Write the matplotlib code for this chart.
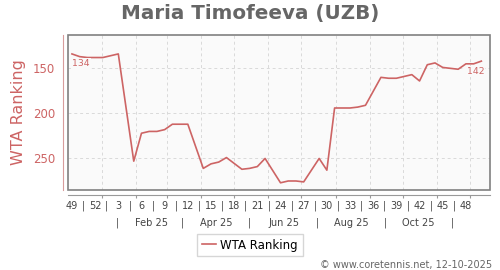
import datetime as dt
import matplotlib
matplotlib.use("Agg")
import matplotlib.pyplot as plt
import matplotlib.dates as mdates
from matplotlib.patches import Rectangle

player = "Maria Timofeeva (UZB)"
footer = "\u00a9 www.coretennis.net, 12-10-2025"

# ISO weeks and WTA ranking
rank_weeks = ["2024-W49", "2024-W50", "2024-W51", "2024-W52", "2025-W01", "2025-W02",
              "2025-W03", "2025-W05", "2025-W06", "2025-W07", "2025-W08", "2025-W09",
              "2025-W10", "2025-W11", "2025-W12", "2025-W14", "2025-W15", "2025-W16",
              "2025-W17", "2025-W19", "2025-W20", "2025-W21", "2025-W22", "2025-W24",
              "2025-W25", "2025-W26", "2025-W27", "2025-W29", "2025-W30", "2025-W31",
              "2025-W32", "2025-W33", "2025-W34", "2025-W35", "2025-W37", "2025-W38",
              "2025-W39", "2025-W40", "2025-W41", "2025-W42", "2025-W43", "2025-W44",
              "2025-W45", "2025-W46", "2025-W47", "2025-W48", "2025-W49", "2025-W50"]
ranks = [134, 137, 138, 138, 138, 136,
         134, 253, 222, 220, 220, 218,
         212, 212, 212, 261, 256, 254,
         249, 262, 261, 259, 250, 277,
         275, 275, 276, 250, 263, 194,
         194, 194, 193, 191, 160, 161,
         161, 159, 157, 164, 146, 144,
         149, 150, 151, 145, 145, 142]

tick_weeks = ["2024-W49", "2024-W52", "2025-W03", "2025-W06", "2025-W09", "2025-W12",
              "2025-W15", "2025-W18", "2025-W21", "2025-W24", "2025-W27", "2025-W30",
              "2025-W33", "2025-W36", "2025-W39", "2025-W42", "2025-W45", "2025-W48"]
month_labels = ["Feb 25", "Apr 25", "Jun 25", "Aug 25", "Oct 25"]
month_label_dates = [dt.date(2025, m, 15) for m in (2, 4, 6, 8, 10)]
month_sep_dates = [dt.date(2025, m, 15) for m in (1, 3, 5, 7, 9, 11)]
y_ticks = [150, 200, 250]

RED = "#cd6464"
GREY = "#808080"


def week_date(s):
    y, w = s.split("-W")
    return dt.date.fromisocalendar(int(y), int(w), 4)


x = mdates.date2num([week_date(s) for s in rank_weeks])
tx = mdates.date2num([week_date(s) for s in tick_weeks])

fig = plt.figure(figsize=(5, 2.7), dpi=100)
ax = fig.add_axes([68 / 500, 80 / 270, 422 / 500, 155 / 270])
ax.set_facecolor("#fafafa")

ax.plot(x, ranks, color=RED, lw=1.2, label="WTA Ranking", zorder=3)

lbl = dict(fontsize=6.7, color=RED, textcoords="offset points", va="top",
           bbox=dict(fc="#fafafa", ec="none", pad=0.8), zorder=4)
ax.annotate(str(ranks[0]), (x[0], ranks[0]), xytext=(0, -4), ha="left", **lbl)
ax.annotate(str(ranks[-1]), (x[-1], ranks[-1]), xytext=(2, -4), ha="right", **lbl)

ax.set_xlim(mdates.date2num(dt.datetime(2024, 12, 1, 10)),
            mdates.date2num(dt.datetime(2025, 12, 18, 20)))
ax.set_ylim(285, 113)

month_starts = mdates.date2num([dt.date(2025, m, 1) for m in range(1, 13)])
ax.set_xticks(month_starts)
ax.set_xticklabels([])
ax.set_yticks(y_ticks)
ax.grid(True, ls=(0, (3, 3)), color="#d9d9d9", lw=0.7)

for side in ("top", "right"):
    ax.spines[side].set_visible(False)
ax.spines["left"].set_position(("outward", 3.6))
ax.spines["left"].set_color("#d89c9c")
ax.spines["bottom"].set_position(("outward", 3.6))
ax.spines["bottom"].set_color("#999999")
ax.add_patch(Rectangle((0, 0), 1, 1, transform=ax.transAxes, fill=False,
                       ec=GREY, lw=1.2, clip_on=False, zorder=5))

ax.tick_params(axis="y", length=0, pad=5.8, labelsize=8.5, labelcolor=RED)
ax.tick_params(axis="x", length=2.5, color="#999999", direction="out")
ax.set_ylabel("WTA Ranking", fontsize=11.5, color=RED, labelpad=5)

trans = ax.get_xaxis_transform()
txt = dict(transform=trans, ha="center", va="center", fontsize=7, color="#444444")
for xi, s in zip(tx, tick_weeks):
    ax.text(xi, -0.103, str(int(s.split("-W")[1])), **txt)
for a, b in zip(tx[:-1], tx[1:]):
    ax.text((a + b) / 2, -0.103, "|", **txt)
for d, s in zip(mdates.date2num(month_label_dates), month_labels):
    ax.text(d, -0.213, s, **txt)
for d in mdates.date2num(month_sep_dates):
    ax.text(d, -0.213, "|", **txt)

fig.text(0.5, 1 - 13 / 270, player, ha="center", va="center",
         fontsize=14.3, fontweight="bold", color="#666666")
fig.legend(loc="center", bbox_to_anchor=(0.5, 1 - 245 / 270), fontsize=8.5,
           frameon=True, fancybox=False, edgecolor="#cccccc", handlelength=1.2,
           handletextpad=0.35, borderpad=0.4, borderaxespad=0)
fig.text(0.984, 1 - 265 / 270, footer, ha="right", va="center", fontsize=7,
         color="#666666")

fig.savefig("out.png", dpi=100)
